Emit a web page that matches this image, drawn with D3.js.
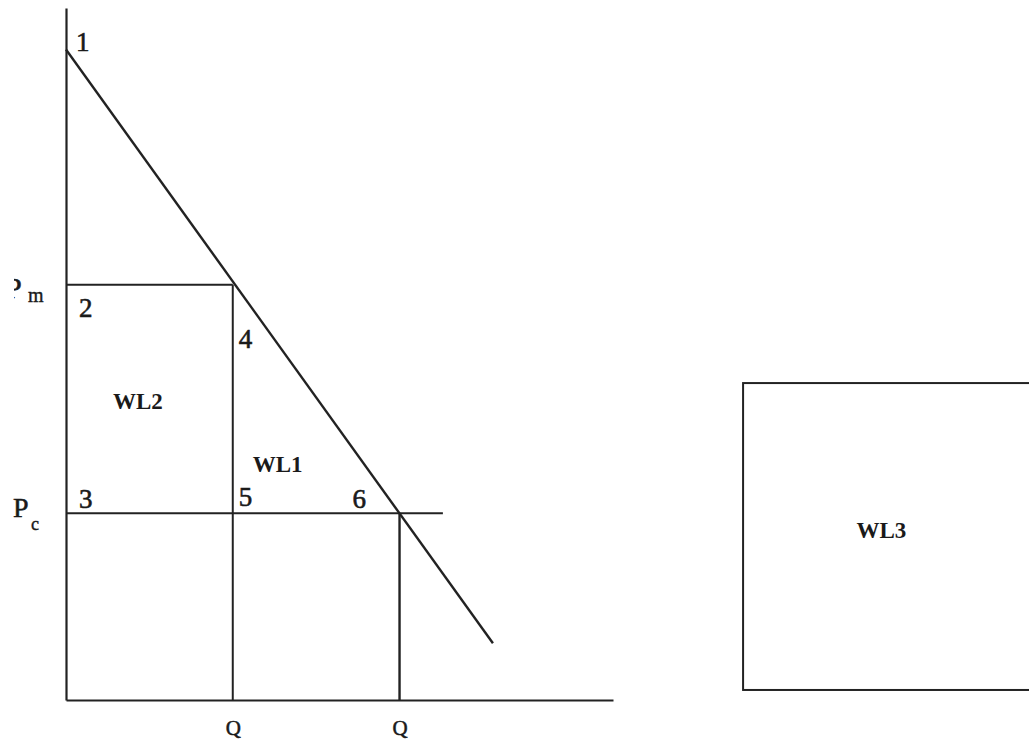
<!DOCTYPE html>
<html>
<head>
<meta charset="utf-8">
<script src="https://cdn.jsdelivr.net/npm/d3@7"></script>
<style>
  html, body { margin: 0; padding: 0; background: #fff; }
  svg { display: block; }
  text { font-family: "Liberation Serif", "DejaVu Serif", serif; fill: #1a1a1a; }
</style>
</head>
<body>
<div id="chart"></div>
<script>
// demand curve (quantity, price)
const demand = [
  { q: 0, p: 94 },
  { q: 12.8, p: 8.2 }
];

// monopoly and competitive outcomes
const Qm = 5, Qc = 10;
const Pm = 60, Pc = 27;
const pcLineEnd = 11.3;

// the separate WL3 box
const box = { q0: 20.3, q1: 30, p0: 1.45, p1: 45.8 };

// numbered corners
const cornerLabels = ["1", "2", "3", "4", "5", "6"];
const cornerQ = [0, 0, 0, Qm, Qm, Qc];
const cornerP = [94, Pm, Pc, Pm, Pc, Pc];

// areas
const areaLabels = ["WL2", "WL1", "WL3"];
const areaQ = [1.41, 5.6, 23.7];
const areaP = [42, 33, 23.4];

const qTickLabels = ["Q", "Q"];

let width = 1029, height = 741;

let svg = d3.select("#chart")
  .append("svg")
  .attr("width", width)
  .attr("height", height);

let x = d3.scaleLinear().domain([0, 16.4]).range([66, 613]);
let y = d3.scaleLinear().domain([0, 100]).range([700, 8]);

const ink = "#222";

// axes, no ticks
svg.append("g")
  .attr("transform", `translate(0, ${y(0)})`)
  .call(d3.axisBottom(x).tickValues([Qm, Qc]).tickSize(0).tickSizeOuter(0)
    .tickPadding(22).tickFormat((d, i) => qTickLabels[i]))
  .call(g => g.select(".domain").attr("stroke", ink).attr("stroke-width", 2.2))
  .call(g => g.selectAll("text")
    .attr("font-size", 21)
    .attr("font-family", "Liberation Serif, serif")
    .attr("fill", "#1a1a1a")
    .attr("stroke", "#1a1a1a")
    .attr("stroke-width", 0.5)
    .attr("dy", "0.62em"));

svg.append("g")
  .attr("transform", `translate(${x(0)}, 0)`)
  .call(d3.axisLeft(y).ticks(0).tickSizeOuter(0))
  .call(g => g.select(".domain").attr("stroke", ink).attr("stroke-width", 2.2));

let lines = svg.append("g")
  .attr("stroke", ink)
  .attr("stroke-width", 2)
  .attr("fill", "none");

// demand line
lines.append("path")
  .datum(demand)
  .attr("stroke-width", 2.4)
  .attr("d", d3.line().x(d => x(d.q)).y(d => y(d.p)));

// Pm rectangle edges and Pc line
lines.append("line")
  .attr("x1", x(0)).attr("x2", x(Qm))
  .attr("y1", y(Pm)).attr("y2", y(Pm));
lines.append("line")
  .attr("x1", x(Qm)).attr("x2", x(Qm))
  .attr("y1", y(Pm)).attr("y2", y(0));
lines.append("line")
  .attr("x1", x(0)).attr("x2", x(pcLineEnd))
  .attr("y1", y(Pc)).attr("y2", y(Pc));
lines.append("line")
  .attr("x1", x(Qc)).attr("x2", x(Qc))
  .attr("y1", y(Pc)).attr("y2", y(0))
  .attr("stroke-width", 2.4);

// WL3 box, running off the right edge
lines.append("rect")
  .attr("x", x(box.q0))
  .attr("y", y(box.p1))
  .attr("width", x(box.q1) - x(box.q0))
  .attr("height", y(box.p0) - y(box.p1));

// corner numbers (offsets are layout only)
const cornerOffset = [[10, 1], [13, 32], [13, -5], [6, 63], [6, -7], [-47, -5]];
svg.append("g")
  .selectAll("text")
  .data(cornerLabels)
  .join("text")
  .attr("x", (d, i) => x(cornerQ[i]) + cornerOffset[i][0])
  .attr("y", (d, i) => y(cornerP[i]) + cornerOffset[i][1])
  .attr("font-size", 27)
  .attr("stroke", "#1a1a1a")
  .attr("stroke-width", 0.6)
  .text(d => d);

svg.append("g")
  .selectAll("text")
  .data(areaLabels)
  .join("text")
  .attr("x", (d, i) => x(areaQ[i]))
  .attr("y", (d, i) => y(areaP[i]))
  .attr("font-size", 23)
  .attr("font-weight", "bold")
  .text(d => d);

// price labels on the left; the Pm "P" is cut by the scan edge
svg.append("clipPath").attr("id", "cut")
  .append("rect").attr("x", 14).attr("y", 0).attr("width", 60).attr("height", height);

svg.append("text")
  .attr("x", 5).attr("y", y(Pm) + 13)
  .attr("font-size", 30)
  .attr("clip-path", "url(#cut)")
  .attr("stroke", "#1a1a1a")
  .attr("stroke-width", 0.6)
  .text("P");
svg.append("text")
  .attr("x", 28).attr("y", y(Pm) + 17)
  .attr("font-size", 20)
  .attr("stroke", "#1a1a1a")
  .attr("stroke-width", 0.4)
  .text("m");

svg.append("text")
  .attr("x", 13).attr("y", y(Pc) + 4)
  .attr("font-size", 28)
  .attr("stroke", "#1a1a1a")
  .attr("stroke-width", 0.5)
  .text("P");
svg.append("text")
  .attr("x", 31).attr("y", y(Pc) + 17)
  .attr("font-size", 18)
  .attr("stroke", "#1a1a1a")
  .attr("stroke-width", 0.4)
  .text("c");
</script>
</body>
</html>
